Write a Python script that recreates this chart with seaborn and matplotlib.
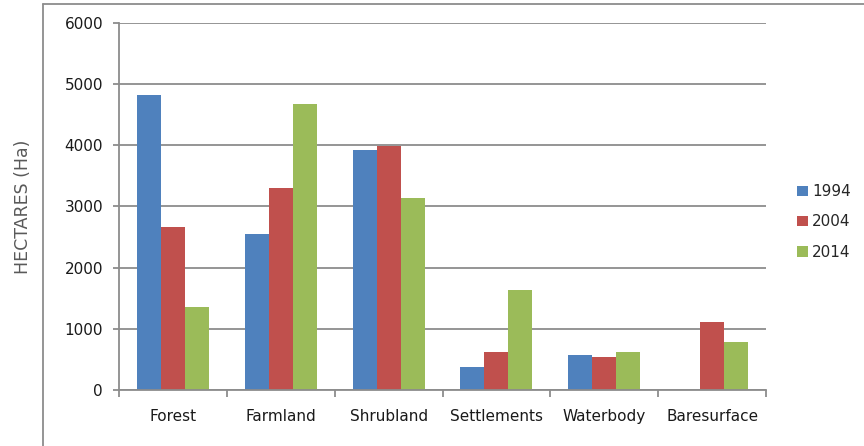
import matplotlib
matplotlib.use("Agg")
import matplotlib.pyplot as plt
from matplotlib.lines import Line2D
from matplotlib.patches import Patch
import seaborn as sns
import pandas as pd

# Land-cover areas (hectares) per class and year
categories = ["Forest", "Farmland", "Shrubland", "Settlements", "Waterbody", "Baresurface"]
years = ["1994", "2004", "2014"]
area_1994 = [4825, 2546, 3929, 382, 569, 0]
area_2004 = [2661, 3306, 3989, 628, 546, 1110]
area_2014 = [1350, 4683, 3142, 1628, 628, 787]
y_ticks = [0, 1000, 2000, 3000, 4000, 5000, 6000]

colors = ["#4F81BD", "#C0504D", "#9BBB59"]

df = pd.DataFrame({
    "Class": categories * 3,
    "Year": [years[0]] * 6 + [years[1]] * 6 + [years[2]] * 6,
    "Area": area_1994 + area_2004 + area_2014,
})

sns.set_theme(style="white")
plt.rcParams["font.family"] = ["DejaVu Sans"]

fig = plt.figure(figsize=(8.64, 4.46), dpi=100)
ax = fig.add_axes([119 / 864, 1 - 390 / 446, (766 - 119) / 864, (390 - 23) / 446])

sns.barplot(data=df, x="Class", y="Area", hue="Year", order=categories,
            hue_order=years, palette=colors, width=0.667, saturation=1,
            linewidth=0, ax=ax, legend=False)

grid_c = "#8c8c8c"
text_c = "#1a1a1a"
ax.set_ylim(0, 6000)
ax.set_xlim(-0.5, len(categories) - 0.5)
ax.set_yticks(y_ticks)
ax.set_yticklabels([str(v) for v in y_ticks], fontsize=11, color=text_c)
ax.yaxis.grid(True, color=grid_c, linewidth=1.3)
ax.set_axisbelow(True)
ax.set_xlabel("")
ax.set_ylabel("")

for side in ["top", "right"]:
    ax.spines[side].set_visible(False)
for side in ["left", "bottom"]:
    ax.spines[side].set_color(grid_c)
    ax.spines[side].set_linewidth(1.3)

# Category boundary ticks below the axis; labels centred without marks
ax.set_xticks(range(len(categories)))
ax.set_xticklabels(categories, fontsize=11, color=text_c)
ax.set_xticks([i - 0.5 for i in range(len(categories) + 1)], minor=True)
ax.tick_params(axis="x", which="major", length=0, pad=14)
ax.tick_params(axis="x", which="minor", length=5, width=1.3, color=grid_c, bottom=True)
ax.tick_params(axis="y", which="major", length=4.5, width=1.3, color=grid_c, left=True, pad=7)

fig.text(23 / 864, 1 - 207 / 446, "HECTARES (Ha)", rotation=90, ha="center",
         va="center", fontsize=12.5, color="#595959")

handles = [Patch(facecolor=c, edgecolor="none") for c in colors]
fig.legend(handles, years, loc="center left", bbox_to_anchor=(797 / 864, 1 - 222 / 446),
           frameon=False, fontsize=11, handlelength=0.7, handleheight=0.7,
           handletextpad=0.3, labelspacing=1.0, borderpad=0, borderaxespad=0)

# Chart frame lines
fig.add_artist(Line2D([43 / 864, 43 / 864], [0, 1 - 4 / 446], transform=fig.transFigure,
                      color=grid_c, linewidth=1.3))
fig.add_artist(Line2D([43 / 864, 1], [1 - 4 / 446, 1 - 4 / 446], transform=fig.transFigure,
                      color=grid_c, linewidth=1.3))

fig.savefig("out.png", dpi=100)
